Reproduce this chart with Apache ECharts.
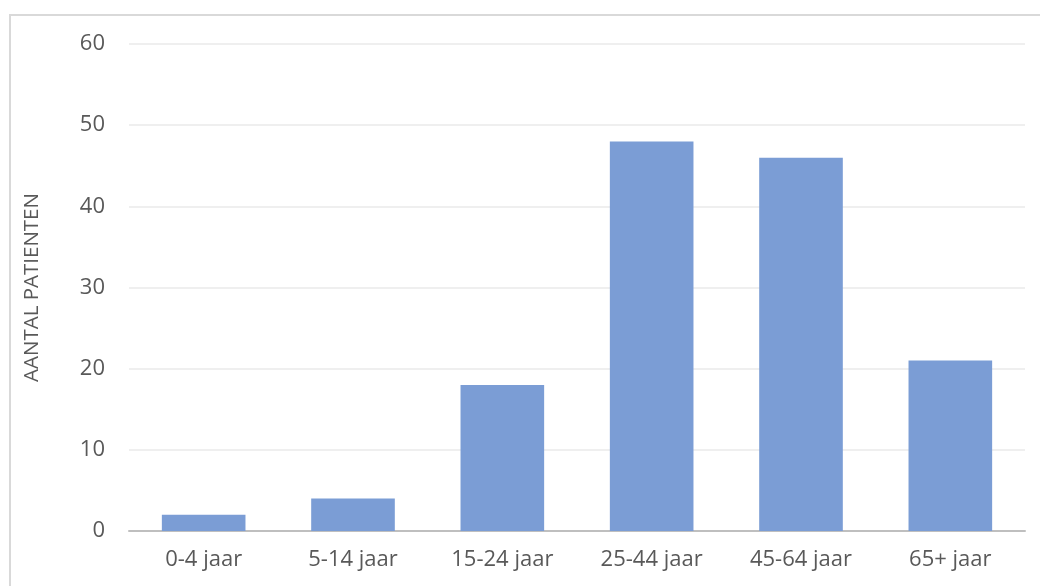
<!DOCTYPE html>
<html>
<head>
<meta charset="utf-8">
<script src="https://cdn.jsdelivr.net/npm/echarts@6/dist/echarts.min.js"></script>
<style>
  body { margin: 0; background: #fff; }
  #frame {
    position: absolute; left: 9px; top: 14px; width: 1100px; height: 700px;
    border-left: 2px solid #d9d9d9; border-top: 2px solid #d9d9d9;
  }
  #chart { position: absolute; left: 0; top: 0; width: 1040px; height: 586px; }
</style>
</head>
<body>
<div id="frame"></div>
<div id="chart"></div>
<script>
// leeftijdsgroepen en aantallen
const categories = ['0-4 jaar', '5-14 jaar', '15-24 jaar', '25-44 jaar', '45-64 jaar', '65+ jaar'];
const patients = [2, 4, 18, 48, 46, 21];
const yTicks = [0, 10, 20, 30, 40, 50, 60];

const font = 'Open Sans';
const chart = echarts.init(document.getElementById('chart'));
const option = {
  animation: false,
  grid: { left: 129, right: 15, top: 44, bottom: 55 },
  xAxis: {
    type: 'category',
    data: categories,
    axisTick: { show: false },
    axisLine: { lineStyle: { color: '#bfbfbf', width: 2 } },
    axisLabel: { color: '#595959', fontSize: 22, fontFamily: font, margin: 18 }
  },
  yAxis: {
    type: 'value',
    min: yTicks[0],
    max: yTicks[yTicks.length - 1],
    interval: 10,
    name: 'AANTAL PATIENTEN',
    nameLocation: 'middle',
    nameGap: 86,
    nameTextStyle: { color: '#595959', fontSize: 20.5, fontFamily: font },
    axisLine: { show: false },
    axisTick: { show: false },
    axisLabel: { color: '#595959', fontSize: 22, fontFamily: font, margin: 24 },
    splitLine: { lineStyle: { color: '#efefef', width: 2 } }
  },
  series: [
    {
      type: 'bar',
      data: patients,
      barWidth: '56%',
      itemStyle: { color: '#7b9dd5' }
    }
  ]
};
chart.setOption(option);
</script>
</body>
</html>
